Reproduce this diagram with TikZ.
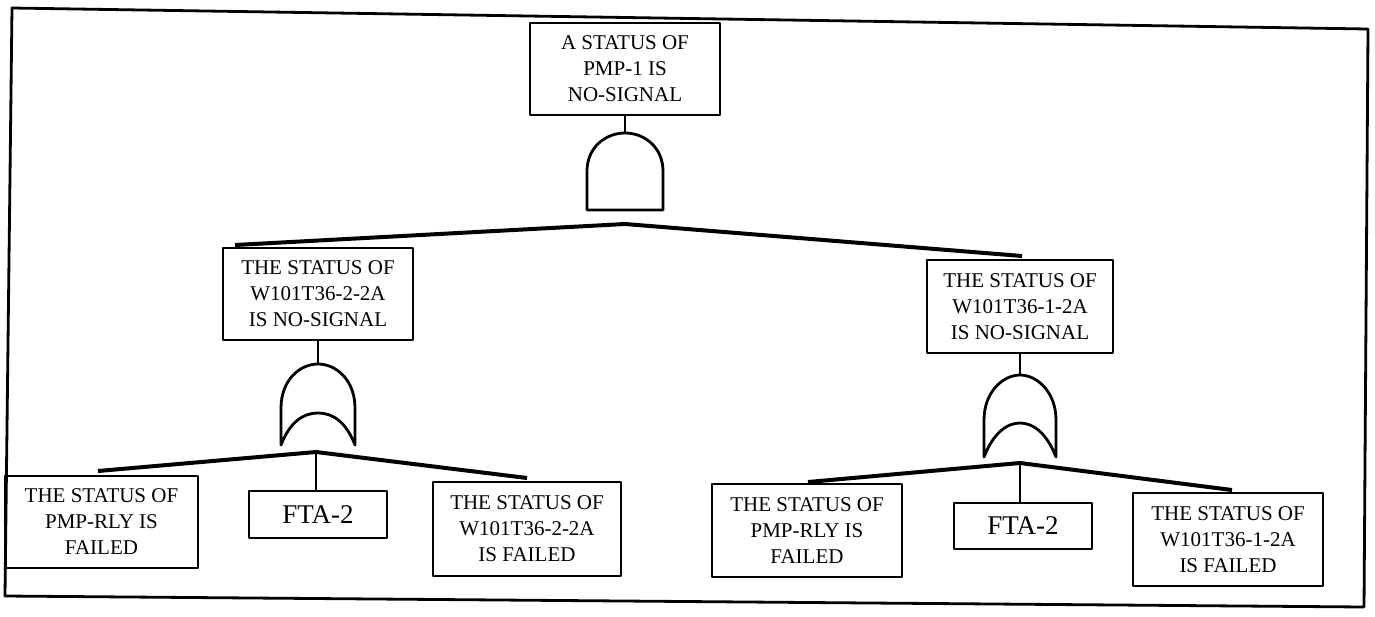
\documentclass[tikz,border=0pt]{standalone}
\usepackage{fontspec}
\setmainfont{Liberation Serif}
\begin{document}
\begin{tikzpicture}[x=1pt,y=-1pt,line join=round,
  box/.style={draw,line width=2.8pt,align=center,inner sep=0pt,font=\fontsize{21}{26}\selectfont},
  ftabox/.style={draw,line width=2.8pt,inner sep=0pt,font=\fontsize{27}{30}\selectfont},
  gateline/.style={line width=2.8pt},
  bar/.style={line width=4pt},
  stem/.style={line width=2.8pt},
  frame/.style={line width=2.8pt}]
\useasboundingbox (0,0) rectangle (1375,616);
% outer frame
\draw[frame] (12,8) -- (1368,29) -- (1364,607) -- (5,596) -- cycle;

% top event
\node[box,minimum width=190pt,minimum height=92pt] (top) at (625,69) {A STATUS OF\\PMP-1 IS\\NO-SIGNAL};
% AND gate
\coordinate (andtop) at (625,133);
\draw[gateline] (587,210) -- (587,171) .. controls (587,148) and (605,133) .. (andtop)
  .. controls (645,133) and (663,148) .. (663,171) -- (663,210) -- cycle;
\draw[stem] (top.south) -- (andtop);

% middle events
\node[box,minimum width=190pt,minimum height=92pt] (lmid) at (318,294) {THE STATUS OF\\W101T36-2-2A\\IS NO-SIGNAL};
\node[box,minimum width=186pt,minimum height=93pt] (rmid) at (1020,306.5) {THE STATUS OF\\W101T36-1-2A\\IS NO-SIGNAL};

% top bar
\coordinate (b0) at (625,224);
\coordinate (b0l) at (235,245);
\coordinate (b0r) at (1022,256);
\draw[bar] (b0l) -- (b0) -- (b0r);

% left OR gate
\coordinate (or1top) at (318,364);
\draw[gateline] (281,445) -- (281,408) .. controls (281,380) and (300,364) .. (or1top)
  .. controls (336,364) and (355,380) .. (355,408) -- (355,445)
  .. controls (346,422) and (333,413) .. (318,413)
  .. controls (303,413) and (290,422) .. (281,445) -- cycle;
\draw[stem] (lmid.south) -- (or1top);

% right OR gate
\coordinate (or2top) at (1020,375);
\draw[gateline] (984,457) -- (984,420) .. controls (984,392) and (1003,375) .. (or2top)
  .. controls (1037,375) and (1056,392) .. (1056,420) -- (1056,457)
  .. controls (1047,434) and (1034,423) .. (1020,423)
  .. controls (1006,423) and (993,434) .. (984,457) -- cycle;
\draw[stem] (rmid.south) -- (or2top);

% left group basic events
\node[box,minimum width=193pt,minimum height=92pt] (lb1) at (101.5,522) {THE STATUS OF\\PMP-RLY IS\\FAILED};
\node[ftabox,minimum width=138pt,minimum height=47pt] (lfta) at (318,514.5) {FTA-2};
\node[box,minimum width=188pt,minimum height=94pt] (lb3) at (527,529) {THE STATUS OF\\W101T36-2-2A\\IS FAILED};
\coordinate (b1) at (316,452);
\coordinate (b1l) at (98,471);
\coordinate (b1r) at (527,478);
\draw[bar] (b1l) -- (b1) -- (b1r);
\draw[stem] (b1) -- (b1 |- lfta.north);

% right group basic events
\node[box,minimum width=190pt,minimum height=93pt] (rb1) at (807,530.5) {THE STATUS OF\\PMP-RLY IS\\FAILED};
\node[ftabox,minimum width=138pt,minimum height=46pt] (rfta) at (1023,526) {FTA-2};
\node[box,minimum width=190pt,minimum height=93pt] (rb3) at (1228,539.5) {THE STATUS OF\\W101T36-1-2A\\IS FAILED};
\coordinate (b2) at (1020,463);
\coordinate (b2l) at (808,482);
\coordinate (b2r) at (1232,490);
\draw[bar] (b2l) -- (b2) -- (b2r);
\draw[stem] (b2) -- (b2 |- rfta.north);
\end{tikzpicture}
\end{document}
